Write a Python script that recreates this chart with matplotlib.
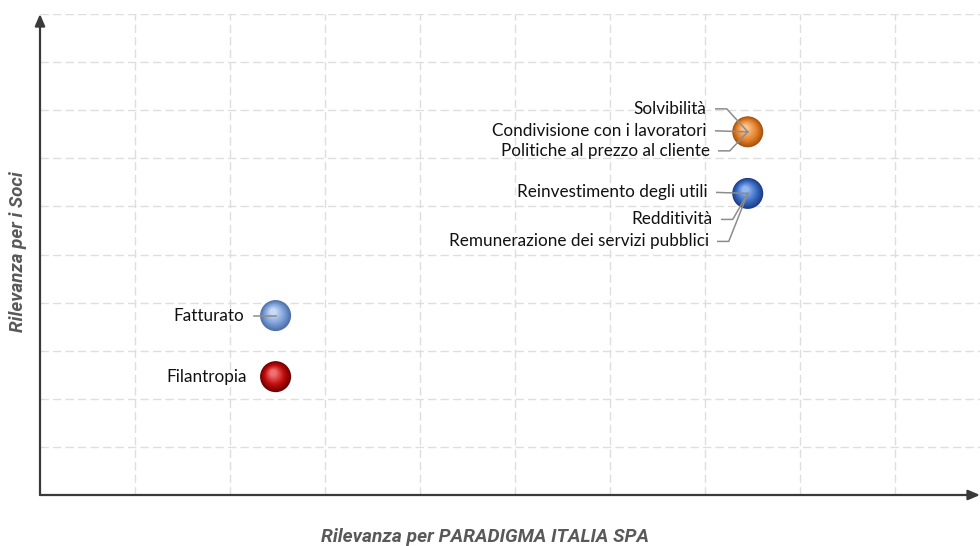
import matplotlib.pyplot as plt
import numpy as np
from matplotlib.colors import to_rgb

# points (x = Rilevanza per PARADIGMA, y = Rilevanza per i Soci)
names = ["Solvibilità_grp", "Reinvestimento_grp", "Fatturato", "Filantropia"]
xs = [7.45, 7.45, 2.48, 2.48]
ys = [7.55, 6.27, 3.73, 2.46]
base_cols = ["#E8862E", "#3F72C8", "#7FA2DA", "#C40D0D"]
dark_cols = ["#A9520C", "#1C3C86", "#4D6FA8", "#6E0000"]
light_cols = ["#F8C490", "#93B6EE", "#C9DAF5", "#F07070"]

# labels attached to each point
lab_point = [0, 0, 0, 1, 1, 1, 2, 3]
lab_text = ["Solvibilità", "Condivisione con i lavoratori", "Politiche al prezzo al cliente",
            "Reinvestimento degli utili", "Redditività", "Remunerazione dei servizi pubblici",
            "Fatturato", "Filantropia"]
lab_dy = [-23, -1, 19, -1, 26, 48, 0, 0]     # pixel offsets of text from the point
lab_dx = [-41, -41, -38, -40, -35, -39, -31, -29]
lab_leader = [True, True, True, True, True, True, True, False]

fig = plt.figure(figsize=(9.8, 5.46), dpi=100)
ax = fig.add_axes([40 / 980, 51 / 546, 940 / 980, 481 / 546])
ax.set_xlim(0, 940 / 95)
ax.set_ylim(0, 10)
for s in ax.spines.values():
    s.set_visible(False)
ax.set_xticks(np.arange(1, 10))
ax.set_yticks(np.arange(1, 11))
ax.tick_params(length=0, labelbottom=False, labelleft=False)
ax.grid(True, color="#DEDEDE", linestyle=(0, (6, 3)), linewidth=1.0)
ax.set_axisbelow(True)

# arrow axes
ax.annotate("", xy=(1.0, 0), xytext=(0, 0), xycoords="axes fraction",
            arrowprops=dict(arrowstyle="-|>,head_length=0.7,head_width=0.3", color="#3A3A3A",
                            lw=1.6, shrinkA=0, shrinkB=0), annotation_clip=False)
ax.annotate("", xy=(0, 1.0), xytext=(0, 0), xycoords="axes fraction",
            arrowprops=dict(arrowstyle="-|>,head_length=0.7,head_width=0.3", color="#3A3A3A",
                            lw=1.6, shrinkA=0, shrinkB=0), annotation_clip=False)

# pixel -> data conversion
ux = 95.0
uy = 481 / 10.0

# shaded spheres
R = 15.5
n = 18
for x, y, cb, cd, cl in zip(xs, ys, base_cols, dark_cols, light_cols):
    cb, cd, cl = np.array(to_rgb(cb)), np.array(to_rgb(cd)), np.array(to_rgb(cl))
    for k in range(n):
        t = k / (n - 1)
        r = R * (1 - 0.8 * t)
        shift = (R - r) * 0.55
        if t < 0.45:
            c = cd + (cb - cd) * (t / 0.45)
        else:
            c = cb + (cl - cb) * ((t - 0.45) / 0.55)
        ax.scatter([x - shift * 0.35 / ux], [y + shift * 0.55 / uy], s=(2 * r * 0.72) ** 2,
                   color=c, edgecolors="none", zorder=3 + k * 0.01)

# labels and leader lines
for p, txt, dx, dy, lead in zip(lab_point, lab_text, lab_dx, lab_dy, lab_leader):
    x, y = xs[p], ys[p]
    ax.annotate(txt, xy=(x, y), xytext=(dx, -dy), textcoords="offset pixels",
                ha="right", va="center", fontsize=12.3, fontfamily="Lato", color="#111111",
                zorder=5)
    if lead:
        x0 = x + (dx + 9) / ux
        if abs(dy) <= 1:
            lx = [x0, x]
            ly = [y - dy / uy, y]
        else:
            lx = [x0, x + (dx + 20) / ux, x]
            ly = [y - dy / uy, y - dy / uy, y]
        ax.plot(lx, ly, color="#8C8C8C", lw=1.1, zorder=4.5)

fig.text(485 / 980, 1 - 537 / 546, "Rilevanza per PARADIGMA ITALIA SPA", ha="center", va="center",
         fontsize=13.8, fontweight="bold", fontstyle="italic",
         family=["Liberation Sans Narrow", "Roboto"], color="#595959")
fig.text(18 / 980, 1 - 252 / 546, "Rilevanza per i Soci", ha="center", va="center", rotation=90,
         fontsize=13.5, fontweight="bold", fontstyle="italic",
         family=["Liberation Sans Narrow", "Roboto"], color="#595959")

fig.savefig("out.png", dpi=100)
